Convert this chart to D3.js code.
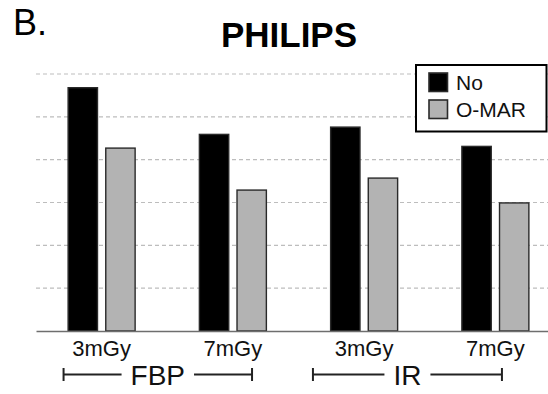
<!DOCTYPE html>
<html>
<head>
<meta charset="utf-8">
<script src="https://cdn.jsdelivr.net/npm/d3@7"></script>
<style>
	body { margin: 0; background: #fff; }
	svg { font-family: "Liberation Sans", Arial, sans-serif; }
</style>
</head>
<body>
<svg id="chart" width="548" height="394"></svg>
<script>
// data
const categories = ['FBP-3', 'FBP-7', 'IR-3', 'IR-7']
const doseLabels = ['3mGy', '7mGy', '3mGy', '7mGy']
const series = ['No', 'O-MAR']
const noValues = [5.68, 4.59, 4.76, 4.31]
const omarValues = [4.27, 3.29, 3.57, 2.99]
const gridTicks = [1, 2, 3, 4, 5, 6]
// reconstruction kernels, spanning category indices
const groupLabels = ['FBP', 'IR']
const groupSpans = [[-0.29, 1.146], [1.61, 3.05]]

const colors = { 'No': '#000000', 'O-MAR': '#b3b3b3' }

const svg = d3.select('#chart')
const margin = { top: 74, left: 36, bottom: 331 }

const x = d3.scaleBand()
	.domain(categories)
	.range([margin.left, margin.left + 131.25 * categories.length])
	.padding(0)

const xInner = d3.scaleBand()
	.domain(series)
	.range([0, 67])
	.paddingInner(0.22)

const y = d3.scaleLinear()
	.domain([0, 6])
	.range([margin.bottom, margin.top])

// index -> pixel centre, used for the group brackets
const xIdx = d3.scaleLinear()
	.domain([0, 1])
	.range([x(categories[0]) + x.bandwidth() / 2, x(categories[1]) + x.bandwidth() / 2])

// dashed gridlines
svg.append('g')
	.selectAll('line')
	.data(gridTicks)
	.join('line')
	.attr('x1', x.range()[0])
	.attr('x2', x.range()[1])
	.attr('y1', d => y(d))
	.attr('y2', d => y(d))
	.attr('stroke', '#bdbdbd')
	.attr('stroke-width', 1.2)
	.attr('stroke-dasharray', '4,3')

// bars
const rows = categories.map((c, i) => ({ cat: c, vals: [
	{ s: 'No', v: noValues[i] },
	{ s: 'O-MAR', v: omarValues[i] }
] }))

const groups = svg.append('g')
	.selectAll('g')
	.data(rows)
	.join('g')
	.attr('transform', d => `translate(${x(d.cat) + (x.bandwidth() - 67) / 2}, 0)`)

groups.selectAll('rect')
	.data(d => d.vals)
	.join('rect')
	.attr('x', d => xInner(d.s))
	.attr('width', xInner.bandwidth())
	.attr('y', d => y(d.v))
	.attr('height', d => y(0) - y(d.v))
	.attr('fill', d => colors[d.s])
	.attr('stroke', '#2a2a2a')
	.attr('stroke-width', 1.4)

// x axis
const xAxis = d3.axisBottom(x)
	.tickSize(0)
	.tickPadding(9)
	.tickFormat((d, i) => doseLabels[i])

const axisG = svg.append('g')
	.attr('transform', `translate(0, ${y(0)})`)
	.call(xAxis)
axisG.select('.domain')
	.attr('stroke', '#6e6e6e')
	.attr('stroke-width', 1.6)
axisG.selectAll('text')
	.attr('font-size', 22)
	.attr('font-family', '"Liberation Sans", Arial, sans-serif')
	.attr('fill', '#111')

// group brackets
const bracketY = 374.5
groupLabels.forEach((lab, i) => {
	const [a, b] = groupSpans[i].map(xIdx)
	const g = svg.append('g')
	const t = g.append('text')
		.attr('x', (a + b) / 2)
		.attr('y', 384.5)
		.attr('text-anchor', 'middle')
		.attr('font-size', 28)
		.attr('fill', '#111')
		.text(lab)
	const w = t.node().getComputedTextLength()
	const gap = 9
	const segs = [[a, (a + b) / 2 - w / 2 - gap], [(a + b) / 2 + w / 2 + gap, b]]
	g.selectAll('line.seg')
		.data(segs)
		.join('line')
		.attr('class', 'seg')
		.attr('x1', d => d[0])
		.attr('x2', d => d[1])
		.attr('y1', bracketY)
		.attr('y2', bracketY)
		.attr('stroke', '#222')
		.attr('stroke-width', 2)
	g.selectAll('line.end')
		.data([a, b])
		.join('line')
		.attr('class', 'end')
		.attr('x1', d => d)
		.attr('x2', d => d)
		.attr('y1', bracketY - 6.5)
		.attr('y2', bracketY + 6.5)
		.attr('stroke', '#222')
		.attr('stroke-width', 2)
})

// title and panel letter
svg.append('text')
	.attr('x', 289)
	.attr('y', 47)
	.attr('text-anchor', 'middle')
	.attr('font-size', 35)
	.attr('font-weight', 'bold')
	.text('PHILIPS')

svg.append('text')
	.attr('x', 13)
	.attr('y', 35)
	.attr('font-size', 36)
	.text('B.')

// legend
const legend = svg.append('g').attr('transform', 'translate(416, 65)')
legend.append('rect')
	.attr('width', 130.5)
	.attr('height', 66.5)
	.attr('fill', '#fff')
	.attr('stroke', '#000')
	.attr('stroke-width', 2)
const items = legend.selectAll('g.item')
	.data(series)
	.join('g')
	.attr('class', 'item')
	.attr('transform', (d, i) => `translate(13, ${8 + i * 27})`)
items.append('rect')
	.attr('width', 18.5)
	.attr('height', 18.5)
	.attr('fill', d => colors[d])
	.attr('stroke', '#2a2a2a')
	.attr('stroke-width', 1.6)
items.append('text')
	.attr('x', 27)
	.attr('y', 17)
	.attr('font-size', 21)
	.attr('fill', '#111')
	.text(d => d)
</script>
</body>
</html>
